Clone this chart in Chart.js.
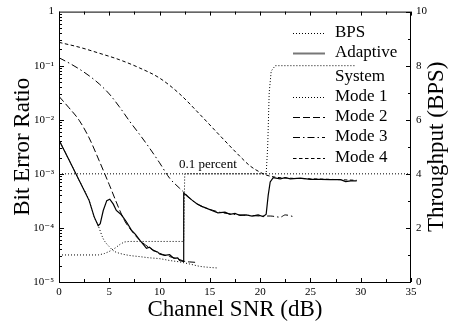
<!DOCTYPE html>
<html>
<head>
  <meta charset="UTF-8">
  <title>Bit Error Ratio / Throughput vs Channel SNR</title>
  <script src="https://cdn.jsdelivr.net/npm/chart.js"></script>
  <style>
    html, body { margin:0; padding:0; background:#fff; }
    #wrap { width:452px; height:322px; }
  </style>
</head>
<body>
<div id="wrap"><canvas id="berChart" width="452" height="322"></canvas></div>
<script>
// values (SNR in dB, BER, throughput in BPS)
const snrAdaptive = [0,1,2,3,3.5,3.9,4.1,4.4,4.75,5.05,5.4,5.7,6.2,6.7,7.2,7.6,8.05,8.4,8.7,9.0,9.4,9.8,10.0,10.5,11.0,11.4,11.8,12.0,12.35,
  12.4,12.8,13.2,13.7,14.2,14.7,15.2,15.8,16.5,17.0,17.5,18.0,18.6,19.2,19.8,20.3,20.6,20.8,21.0,21.3,22.0,22.5,23.0,24.0,25.0,26.0,27.0,28.0,28.5,29.0,29.6];
const berAdaptive = [4.2e-3,1.8e-3,7.6e-4,3.2e-4,1.6e-4,1.1e-4,1.2e-4,2.1e-4,3.2e-4,3.4e-4,2.75e-4,2.1e-4,1.75e-4,1.3e-4,9.1e-5,7.6e-5,5.9e-5,4.9e-5,4.2e-5,4.4e-5,3.8e-5,3.6e-5,3.3e-5,3.1e-5,3.2e-5,2.75e-5,2.8e-5,2.5e-5,2.4e-5,
  4.4e-4,3.8e-4,3.3e-4,2.8e-4,2.5e-4,2.3e-4,2.1e-4,1.9e-4,1.95e-4,1.78e-4,1.86e-4,1.7e-4,1.74e-4,1.66e-4,1.74e-4,1.62e-4,1.8e-4,4.0e-4,7.1e-4,8.5e-4,8.1e-4,8.5e-4,8.1e-4,8.3e-4,7.9e-4,7.9e-4,7.8e-4,7.8e-4,7.2e-4,7.4e-4,7.4e-4];

const snrMode1 = [0,1,2,3,3.5,3.9,4.4,5.0,5.5,6,7,8,9,10,11,12,13,14,15,15.7];
const berMode1 = [4.2e-3,1.8e-3,7.6e-4,3.2e-4,1.6e-4,1.1e-4,6.3e-5,4.5e-5,3.7e-5,3.4e-5,3.1e-5,2.95e-5,2.8e-5,2.7e-5,2.5e-5,2.35e-5,2.15e-5,1.95e-5,1.86e-5,1.82e-5];

const snrMode2 = [0,1,2,3,4,5,6,6.5,7,8,9,10,11,12,12.5,13,13.7];
const berMode2 = [2.7e-2,1.66e-2,9.8e-3,4.6e-3,1.74e-3,6.3e-4,2.2e-4,1.38e-4,1.0e-4,6.0e-5,4.3e-5,3.4e-5,2.95e-5,2.6e-5,2.4e-5,2.35e-5,2.3e-5];

const snrMode3 = [0,1,2,3,4,5,6,7,8,9,10,11,12,12.5,13,14,15,16,17,18,19,20,21,22,22.5,23.3];
const berMode3 = [0.14,0.112,8.7e-2,6.5e-2,4.6e-2,3.0e-2,1.74e-2,9.5e-3,5.4e-3,3.0e-3,1.6e-3,8.3e-4,5.4e-4,4.4e-4,3.5e-4,2.6e-4,2.2e-4,1.95e-4,1.82e-4,1.74e-4,1.7e-4,1.66e-4,1.66e-4,1.58e-4,1.74e-4,1.62e-4];

const snrMode4 = [0,2,4,6,8,10,12,14,16,18,19,20,20.6,21.5,23,25,27,29.6];
const berMode4 = [0.27,0.22,0.17,0.129,9.1e-2,5.9e-2,3.0e-2,1.26e-2,5.1e-3,2.1e-3,1.4e-3,1.07e-3,9.5e-4,8.7e-4,8.3e-4,8.1e-4,7.9e-4,7.6e-4];

const snrBps = [0,3.9,4.5,5,5.6,6.1,6.5,7,12.4,12.5,20.6,20.75,20.9,21.1,21.5,29.5];
const bps    = [1,1,1.05,1.13,1.26,1.40,1.48,1.5,1.5,4,4,5,7,7.8,8,8];

const snrTarget = [0,35];
const berTarget = [1e-3,1e-3];

const berTicks = [1e-5,1e-4,1e-3,1e-2,1e-1,1];
const legendNames = ['BPS','Adaptive','System','Mode 1','Mode 2','Mode 3','Mode 4'];

const SERIF = "'Liberation Serif', 'DejaVu Serif', serif";
const DOT = [1,2], LONG = [7,3], DASHDOT = [7,3,1.5,3], SHORT = [3.5,2.5];

function pts(xs, ys) { return xs.map((x, i) => ({x: x, y: ys[i]})); }
function line(label, xs, ys, dash, axis, width, mono) {
  return { label: label, data: pts(xs, ys), yAxisID: axis, borderColor:'#000', borderWidth: width,
    borderDash: dash, pointRadius:0, fill:false, tension:0, cubicInterpolationMode: mono ? 'monotone' : 'default' };
}

const sup = {'-':'\u207B','0':'\u2070','1':'\u00B9','2':'\u00B2','3':'\u00B3','4':'\u2074','5':'\u2075'};
function berLabel(v) {
  if (v === 1) return '1';
  const e = String(Math.round(Math.log10(v)));
  return '10' + e.split('').map(c => sup[c]).join('');
}

const decor = {
  id:'decor',
  afterDraw(chart) {
    const c = chart.ctx, a = chart.chartArea;
    const sx = chart.scales.x, sy = chart.scales.y, s2 = chart.scales.y2;
    c.save();
    c.strokeStyle = '#000'; c.lineWidth = 1; c.setLineDash([]);
    c.strokeRect(a.left + 0.5, a.top + 0.5, a.right - a.left - 1, a.bottom - a.top);
    c.beginPath();
    for (let v = 0; v <= 35; v += 2.5) {
      const px = Math.round(sx.getPixelForValue(v)) + 0.5, len = (v % 5 === 0) ? 4 : 3;
      c.moveTo(px, a.bottom); c.lineTo(px, a.bottom - len);
      c.moveTo(px, a.top); c.lineTo(px, a.top + len);
    }
    for (let d = -5; d < 0; d++) {
      for (let m = 1; m <= 9; m++) {
        const py = Math.round(sy.getPixelForValue(m * Math.pow(10, d))) + 0.5;
        c.moveTo(a.left, py); c.lineTo(a.left + (m === 1 ? 5 : 3), py);
      }
    }
    for (let v = 0; v <= 10; v++) {
      const py = Math.round(s2.getPixelForValue(v)) + 0.5;
      c.moveTo(a.right, py); c.lineTo(a.right - (v % 2 === 0 ? 5 : 3), py);
    }
    c.stroke();

    // axis titles
    c.fillStyle = '#000';
    c.font = '23px ' + SERIF;
    c.textAlign = 'center'; c.textBaseline = 'alphabetic';
    c.fillText('Channel SNR (dB)', (a.left + a.right) / 2, 316);
    c.textBaseline = 'middle';
    c.save(); c.translate(23, (a.top + a.bottom) / 2); c.rotate(-Math.PI / 2);
    c.fillText('Bit Error Ratio', 0, 0); c.restore();
    c.save(); c.translate(437, (a.top + a.bottom) / 2); c.rotate(-Math.PI / 2);
    c.fillText('Throughput (BPS)', 0, 0); c.restore();

    // target label
    c.font = '13px ' + SERIF; c.textAlign = 'left'; c.textBaseline = 'alphabetic';
    c.fillText('0.1 percent', 179, 168);

    // legend
    const rows = [33, 53, 77, 97, 117, 137, 158];
    const styles = [
      {dash: DOT, col:'#000', w:1}, {dash: [], col:'#777', w:2}, null,
      {dash: DOT, col:'#000', w:1}, {dash: LONG, col:'#000', w:1},
      {dash: DASHDOT, col:'#000', w:1}, {dash: SHORT, col:'#000', w:1}
    ];
    c.font = '17px ' + SERIF; c.textBaseline = 'middle';
    legendNames.forEach((name, i) => {
      const st = styles[i];
      if (st) {
        c.beginPath(); c.setLineDash(st.dash); c.strokeStyle = st.col; c.lineWidth = st.w;
        c.moveTo(293, rows[i] + 0.5); c.lineTo(325, rows[i] + 0.5); c.stroke();
      }
      c.fillText(name, 335, rows[i]);
    });
    c.restore();
  }
};

new Chart(document.getElementById('berChart').getContext('2d'), {
  type: 'line',
  data: {
    datasets: [
      line('0.1 percent', snrTarget, berTarget, DOT, 'y', 1, false),
      line('BPS', snrBps, bps, DOT, 'y2', 1, false),
      line('Mode 1', snrMode1, berMode1, DOT, 'y', 1, true),
      line('Mode 2', snrMode2, berMode2, LONG, 'y', 1, true),
      line('Mode 3', snrMode3, berMode3, DASHDOT, 'y', 1, true),
      line('Mode 4', snrMode4, berMode4, SHORT, 'y', 1, true),
      line('Adaptive System', snrAdaptive, berAdaptive, [], 'y', 1.2, false)
    ]
  },
  options: {
    responsive: false,
    animation: false,
    layout: { padding: { top: 11, left: 0, right: 0, bottom: 0 } },
    plugins: { legend: { display: false }, tooltip: { enabled: false } },
    scales: {
      x: {
        type: 'linear', min: 0, max: 35, position: 'bottom',
        grid: { display: false, drawTicks: false }, border: { display: false },
        ticks: { stepSize: 5, color: '#000', padding: 4, maxRotation: 0, font: { family: SERIF, size: 11 } },
        afterFit: s => { s.height = 40; }
      },
      y: {
        type: 'logarithmic', min: 1e-5, max: 1, position: 'left',
        grid: { display: false, drawTicks: false }, border: { display: false },
        afterBuildTicks: s => { s.ticks = berTicks.map(v => ({ value: v })); },
        ticks: { color: '#000', padding: 5, font: { family: SERIF, size: 11 }, callback: v => berLabel(v) },
        afterFit: s => { s.width = 59; }
      },
      y2: {
        type: 'linear', min: 0, max: 10, position: 'right',
        grid: { display: false, drawTicks: false }, border: { display: false },
        ticks: { stepSize: 2, color: '#000', padding: 5, font: { family: SERIF, size: 11 } },
        afterFit: s => { s.width = 41; }
      }
    }
  },
  plugins: [decor]
});
</script>
</body>
</html>
